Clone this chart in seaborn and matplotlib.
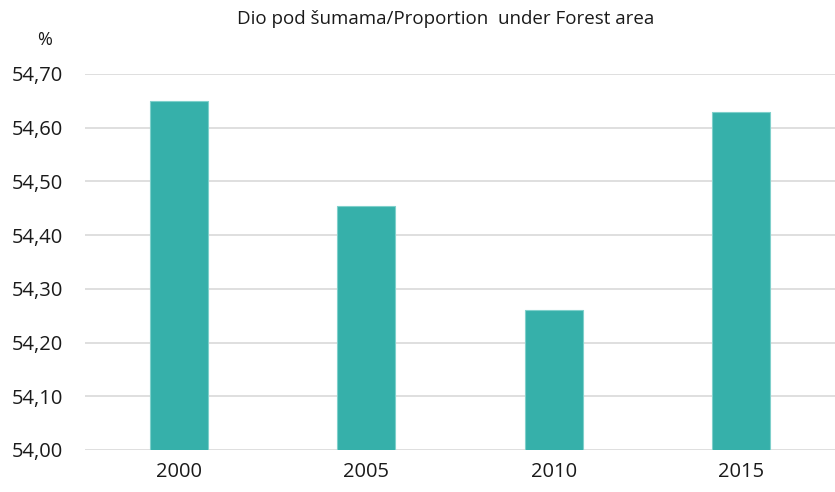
import pandas as pd
import matplotlib.pyplot as plt
import seaborn as sns

# Data
years = ["2000", "2005", "2010", "2015"]
share = [54.65, 54.455, 54.26, 54.63]
y_ticks = [54.0, 54.1, 54.2, 54.3, 54.4, 54.5, 54.6, 54.7]

df = pd.DataFrame({"Year": years, "Share": share})

sns.set_style("white")
plt.rcParams["font.family"] = ["Open Sans", "DejaVu Sans"]

fig = plt.figure(figsize=(8.35, 4.92), dpi=100)
ax = fig.add_axes([0.102, 0.0854, 0.898, 0.7642])

sns.barplot(data=df, x="Year", y="Share", color="#36B0AA", width=0.31,
            edgecolor="#7FD0CB", linewidth=0.8, saturation=1, ax=ax, zorder=3)

ax.set_xlim(-0.5, 3.5)
ax.set_ylim(54.0, 54.7)
ax.set_yticks(y_ticks)
ax.set_yticklabels([f"{v:.2f}".replace(".", ",") for v in y_ticks])
ax.yaxis.grid(True, color="#D9D9D9", linewidth=1.2, zorder=0)
ax.set_axisbelow(True)
for s in ax.spines.values():
    s.set_visible(False)
ax.tick_params(axis="y", length=0, pad=16, labelsize=14.5, colors="#1a1a1a")
ax.tick_params(axis="x", length=0, pad=9, labelsize=14.5, colors="#1a1a1a")
ax.set_xlabel("")
ax.set_ylabel("")

fig.text(0.534, 0.962, "Dio pod šumama/Proportion  under Forest area",
         ha="center", va="center", fontsize=13.5, color="#1a1a1a")
fig.text(0.053, 0.918, "%", ha="center", va="center", fontsize=13, color="#1a1a1a")

fig.savefig("out.png", dpi=100)
